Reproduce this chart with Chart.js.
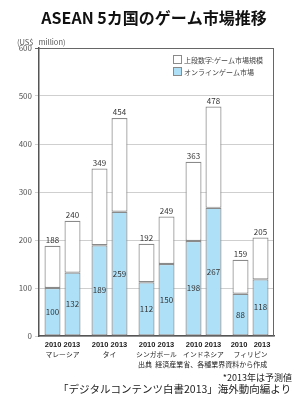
<!DOCTYPE html>
<html>
<head>
<meta charset="utf-8">
<script src="https://cdn.jsdelivr.net/npm/chart.js@4.4.0/dist/chart.umd.min.js"></script>
<style>
  html, body { margin: 0; padding: 0; background: #fff; }
  #wrap { width: 307px; height: 402px; position: relative; }
</style>
</head>
<body>
<div id="wrap"><canvas id="myChart" width="307" height="402"></canvas></div>
<script>
const countries = ["マレーシア", "タイ", "シンガポール", "インドネシア", "フィリピン"]
const yearLabels = ["2010 2013", "2010 2013", "2010 2013", "2010 2013", "2010   2013"]
const total2010 = [188, 349, 192, 363, 159]
const total2013 = [240, 454, 249, 478, 205]
const online2010 = [100, 189, 112, 198, 88]
const online2013 = [132, 259, 150, 267, 118]
const yTicks = [0, 100, 200, 300, 400, 500, 600]

const blue = "#aee0f7"
const edge = "#8a8a8a"
const jp = "'Noto Sans CJK JP', 'Noto Sans', sans-serif"

const rest = (tot, on) => tot.map((v, i) => v - on[i])

const labelsPlugin = {
  id: "extras",
  afterDatasetsDraw(chart) {
    const ctx = chart.ctx
    const area = chart.chartArea
    const xs = chart.scales.x
    ctx.save()
    // plot frame (top/right)
    ctx.strokeStyle = "#666"
    ctx.lineWidth = 1
    ctx.beginPath()
    ctx.moveTo(area.left, area.top + 0.5)
    ctx.lineTo(area.right - 0.5, area.top + 0.5)
    ctx.lineTo(area.right - 0.5, area.bottom)
    ctx.stroke()

    // value labels
    ctx.textAlign = "center"
    ctx.font = "8px " + jp
    chart.data.datasets.forEach((ds, di) => {
      const meta = chart.getDatasetMeta(di)
      meta.data.forEach((bar, i) => {
        ctx.fillStyle = "#333"
        if (ds.kind === "online") {
          ctx.textBaseline = "middle"
          ctx.fillText(ds.data[i], bar.x, (bar.y + bar.base) / 2)
        } else {
          ctx.textBaseline = "bottom"
          ctx.fillText(ds.totals[i], bar.x, bar.y - 2)
        }
      })
    })

    // category labels
    ctx.textBaseline = "middle"
    countries.forEach((c, i) => {
      const x = xs.getPixelForValue(i)
      ctx.fillStyle = "#1a1a1a"
      ctx.font = "bold 7.5px 'Liberation Sans', Arial, sans-serif"
      ctx.fillText(yearLabels[i], x, 345)
      ctx.fillStyle = "#222"
      ctx.font = "6.8px " + jp
      ctx.fillText(c, x, 354.5)
    })

    // legend
    ctx.lineWidth = 1
    ctx.strokeStyle = edge
    ctx.fillStyle = "#fff"
    ctx.fillRect(173.5, 55.5, 8, 8)
    ctx.strokeRect(173.5, 55.5, 8, 8)
    ctx.fillStyle = blue
    ctx.fillRect(173.5, 67.5, 8, 8)
    ctx.strokeRect(173.5, 67.5, 8, 8)
    ctx.fillStyle = "#444"
    ctx.textAlign = "left"
    ctx.font = "7px " + jp
    ctx.fillText("上段数字:ゲーム市場規模", 184, 60)
    ctx.fillText("オンラインゲーム市場", 184, 72)

    // title and notes
    ctx.fillStyle = "#111"
    ctx.textAlign = "center"
    ctx.font = "bold 16px " + jp
    ctx.fillText("ASEAN 5カ国のゲーム市場推移", 154, 18)

    ctx.fillStyle = "#555"
    ctx.textAlign = "left"
    ctx.font = "7.5px " + jp
    ctx.fillText("(US$   million)", 17, 42)

    ctx.fillStyle = "#222"
    ctx.font = "7px " + jp
    ctx.fillText("出典  経済産業省、各種業界資料から作成", 138, 364)
    ctx.textAlign = "right"
    ctx.font = "9px " + jp
    ctx.fillText("*2013年は予測値", 292, 378)
    ctx.textAlign = "left"
    ctx.font = "10.5px " + jp
    ctx.fillText("「デジタルコンテンツ白書2013」海外動向編より", 58, 389)
    ctx.restore()
  }
}

const barStyle = { borderColor: edge, borderWidth: 1.2, borderSkipped: false,
  categoryPercentage: 0.851, barPercentage: 0.8 }

new Chart(document.getElementById("myChart"), {
  type: "bar",
  data: {
    labels: countries,
    datasets: [
      { ...barStyle, kind: "online", stack: "2010", data: online2010, backgroundColor: blue },
      { ...barStyle, kind: "rest", stack: "2010", data: rest(total2010, online2010), totals: total2010, backgroundColor: "#fff" },
      { ...barStyle, kind: "online", stack: "2013", data: online2013, backgroundColor: blue },
      { ...barStyle, kind: "rest", stack: "2013", data: rest(total2013, online2013), totals: total2013, backgroundColor: "#fff" }
    ]
  },
  options: {
    responsive: false,
    animation: false,
    events: [],
    layout: { padding: { left: 0, top: 48, right: 33, bottom: 66 } },
    plugins: { legend: { display: false }, tooltip: { enabled: false } },
    scales: {
      x: {
        stacked: true,
        grid: { display: false },
        border: { display: true, color: "#555", width: 1.5 },
        ticks: { display: false },
        afterFit: (s) => { s.height = 0 }
      },
      y: {
        stacked: true,
        min: 0,
        max: 600,
        afterBuildTicks: (s) => { s.ticks = yTicks.map(v => ({ value: v })) },
        grid: { color: (c) => c.tick && c.tick.value === 600 ? "#666" : "#cfcfcf", tickLength: 4, lineWidth: 1 },
        border: { display: true, color: "#555", width: 1.5 },
        ticks: { color: "#555", font: { size: 8, family: jp }, padding: 3 },
        afterFit: (s) => { s.width = 39 }
      }
    }
  },
  plugins: [labelsPlugin]
})
</script>
</body>
</html>
